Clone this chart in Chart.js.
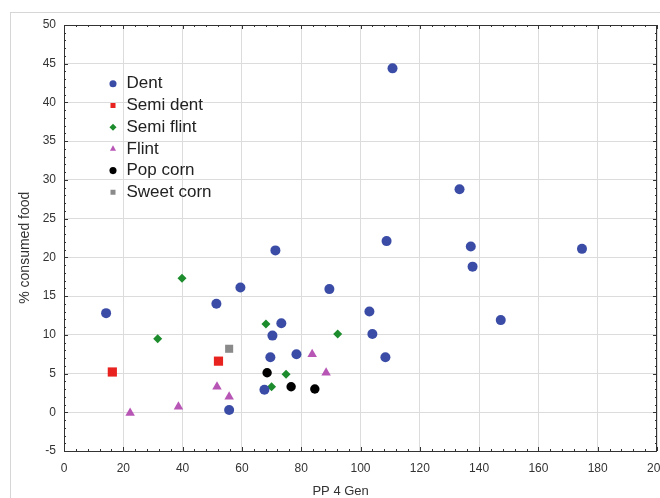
<!DOCTYPE html>
<html>
<head>
<meta charset="utf-8">
<script src="https://cdn.jsdelivr.net/npm/chart.js@4.4.1/dist/chart.umd.min.js"></script>
<style>
  html, body { margin: 0; padding: 0; background: #fff; overflow: hidden; }
  #frame { position: absolute; left: 10px; top: 12px; width: 700px; height: 520px;
           border-left: 1px solid #d6d6d6; border-top: 1px solid #d6d6d6; }
  #wrap { position: absolute; left: 0; top: 0; width: 690px; height: 498px; }
</style>
</head>
<body>
<div id="frame"></div>
<div id="wrap"><canvas id="myChart" width="690" height="498"></canvas></div>

<script>
// values
const dentX = [14.2, 110.8, 133.4, 108.8, 137.2, 137.8, 174.7, 71.3, 59.5, 89.5, 51.4, 103.0, 147.3, 73.3, 70.3, 104.0, 78.4, 69.6, 108.4, 67.6, 55.7];
const dentY = [12.8, 44.4, 28.8, 22.1, 21.4, 18.8, 21.1, 20.9, 16.1, 15.9, 14.0, 13.0, 11.9, 11.5, 9.9, 10.1, 7.5, 7.1, 7.1, 2.9, 0.3];

const semiDentX = [16.3, 52.1];
const semiDentY = [5.2, 6.6];

const semiFlintX = [39.8, 31.6, 68.1, 74.9, 70.0, 92.3];
const semiFlintY = [17.3, 9.5, 11.4, 4.9, 3.3, 10.1];

const flintX = [22.3, 38.6, 51.6, 55.7, 83.7, 88.4];
const flintY = [-0.1, 0.7, 3.3, 2.0, 7.5, 5.1];

const popCornX = [68.5, 76.6, 84.6];
const popCornY = [5.1, 3.3, 3.0];

const sweetCornX = [55.7];
const sweetCornY = [8.2];

const xTicksMin = 0, xTicksMax = 200, xStep = 20;
const yTicksMin = -5, yTicksMax = 50, yStep = 5;

function pts(xs, ys) {
  return xs.map((x, i) => ({x: x, y: ys[i]}));
}

// frame with mirrored major ticks and minor ticks, like the original plot
const framePlugin = {
  id: 'frame',
  afterDraw(chart) {
    const {ctx, chartArea: a, scales} = chart;
    const xs = scales.x, ys = scales.y;
    ctx.save();
    ctx.strokeStyle = '#333';
    ctx.lineWidth = 1;
    ctx.strokeRect(a.left + 0.5, a.top + 0.5, a.right - a.left - 1, a.bottom - a.top);
    ctx.beginPath();
    for (let v = xTicksMin; v <= xTicksMax; v += 4) {
      const px = Math.round(xs.getPixelForValue(v)) + 0.5;
      const len = (v % xStep === 0) ? 4 : 2;
      ctx.moveTo(px, a.bottom); ctx.lineTo(px, a.bottom - len);
      ctx.moveTo(px, a.top); ctx.lineTo(px, a.top + len);
    }
    for (let v = yTicksMin; v <= yTicksMax; v += 1) {
      const py = Math.round(ys.getPixelForValue(v)) + 0.5;
      const len = (v % yStep === 0) ? 4 : 2;
      ctx.moveTo(a.left, py); ctx.lineTo(a.left + len, py);
      ctx.moveTo(a.right, py); ctx.lineTo(a.right - len, py);
    }
    ctx.stroke();
    ctx.restore();
  }
};

// put the legend inside the plot, top left
const legendSpot = {
  id: 'legendSpot',
  afterLayout(chart) {
    const l = chart.legend;
    const w = l.width, h = l.height;
    l.left = 103.3; l.top = 70.6;
    l.right = l.left + w; l.bottom = l.top + h;
  }
};

Chart.defaults.font.family = "'Liberation Sans', Arial, sans-serif";

const myChart = new Chart("myChart", {
  type: "scatter",
  data: {
    datasets: [
      { label: "Dent", data: pts(dentX, dentY), pointStyle: 'circle', radius: 5,
        backgroundColor: '#3a4ca6', borderColor: '#3a4ca6', borderWidth: 0 },
      { label: "Semi dent", data: pts(semiDentX, semiDentY), pointStyle: 'rect', radius: 6.5,
        backgroundColor: '#e8231f', borderColor: '#e8231f', borderWidth: 0 },
      { label: "Semi flint", data: pts(semiFlintX, semiFlintY), pointStyle: 'rectRot', radius: 4.5,
        backgroundColor: '#1c8c2c', borderColor: '#1c8c2c', borderWidth: 0 },
      { label: "Flint", data: pts(flintX, flintY), pointStyle: 'triangle', radius: 5.5,
        backgroundColor: '#b856b6', borderColor: '#b856b6', borderWidth: 0 },
      { label: "Pop corn", data: pts(popCornX, popCornY), pointStyle: 'circle', radius: 4.7,
        backgroundColor: '#000', borderColor: '#000', borderWidth: 0 },
      { label: "Sweet corn", data: pts(sweetCornX, sweetCornY), pointStyle: 'rect', radius: 5.7,
        backgroundColor: '#8a8a8a', borderColor: '#8a8a8a', borderWidth: 0 }
    ]
  },
  plugins: [framePlugin, legendSpot],
  options: {
    responsive: false,
    animation: false,
    events: [],
    layout: { padding: { left: 18, top: 25, right: 33, bottom: 0 } },
    plugins: {
      tooltip: { enabled: false },
      legend: {
        position: 'chartArea',
        align: 'start',
        labels: {
          usePointStyle: true,
          boxWidth: 10,
          boxHeight: 5,
          padding: 4.7,
          color: '#222',
          font: { size: 17 }
        }
      }
    },
    scales: {
      x: {
        type: 'linear',
        min: xTicksMin, max: xTicksMax,
        ticks: { stepSize: xStep, padding: 10, color: '#333', font: { size: 12 } },
        grid: { color: '#dcdcdc', drawTicks: false },
        border: { display: false },
        title: { display: true, text: "PP 4 Gen           ", color: '#333',
                 font: { size: 13, lineHeight: 1 }, padding: 0 },
        afterFit(scale) { scale.height = 47; }
      },
      y: {
        type: 'linear',
        min: yTicksMin, max: yTicksMax,
        ticks: { stepSize: yStep, padding: 8, color: '#333', font: { size: 12 } },
        grid: { color: '#dcdcdc', drawTicks: false },
        border: { display: false },
        title: { display: true, text: "% consumed food     ", color: '#333',
                 font: { size: 14, lineHeight: 1 }, padding: 0 },
        afterFit(scale) { scale.width = 46; }
      }
    }
  }
});
</script>
</body>
</html>
